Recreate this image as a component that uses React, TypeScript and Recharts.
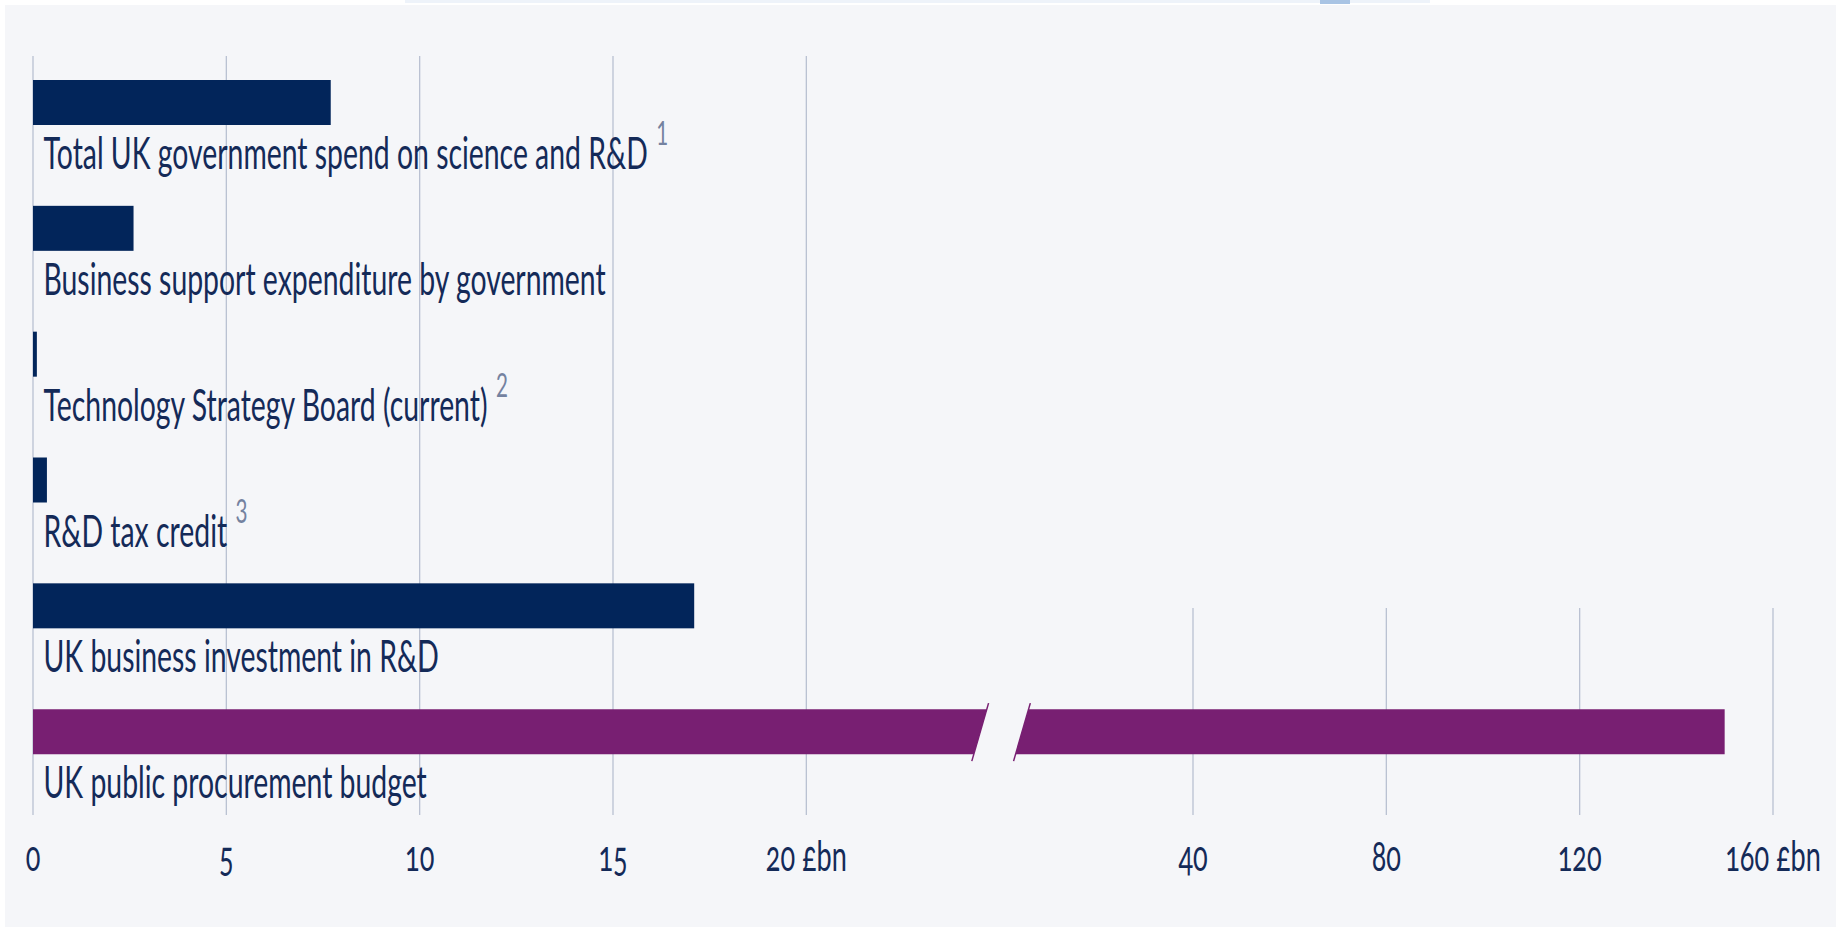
import React from "react";
import { BarChart, Bar, XAxis, YAxis, CartesianGrid } from "recharts";

const categories = [
  "Total UK government spend on science and R&D",
  "Business support expenditure by government",
  "Technology Strategy Board (current)",
  "R&D tax credit",
  "UK business investment in R&D",
  "UK public procurement budget",
];
const values = [7.7, 2.6, 0.1, 0.36, 17.1, 150];
const footnotes = ["1", "", "2", "3", "", ""];
const tickValues = [0, 5, 10, 15, 20, 40, 80, 120, 160];
const tickLabels = ["0", "5", "10", "15", "20 £bn", "40", "80", "120", "160 £bn"];
const highlighted = "UK public procurement budget";

// broken axis: 0-20 linear, then 40-160 squeezed to 1/8 of the scale
const LOW_MAX = 20;
const HIGH_MIN = 40;
const HIGH_START = 30;
const HIGH_RATIO = 8;
const toAxis = (v: number) =>
  v <= LOW_MAX ? v : HIGH_START + (v - HIGH_MIN) / HIGH_RATIO;

const axisTicks = tickValues.map(toAxis);
const lowTicks = tickValues.filter((v) => v <= LOW_MAX).map(toAxis);
const highTicks = tickValues.filter((v) => v > LOW_MAX).map(toAxis);

const data = categories.map((name, i) => ({
  name,
  note: footnotes[i],
  value: values[i],
  pos: toAxis(values[i]),
}));

const NAVY = "#02255a";
const PURPLE = "#781f72";
const TEXT = "#142a58";
const NOTE = "#7482a0";
const GRID = "#b9c1d2";
const FONT = "Lato, 'Open Sans', sans-serif";
const SX = 0.645; // the source art is squeezed horizontally
const BREAK = [24.5, 25.58];
const SLANT = 13;

function BarWithLabel(props: any) {
  const { x, y, width, height, payload } = props;
  const fill = payload.name === highlighted ? PURPLE : NAVY;
  let bar;
  if (payload.value > LOW_MAX) {
    const unit = width / payload.pos;
    const a = x + BREAK[0] * unit;
    const b = x + BREAK[1] * unit;
    const s = SLANT / 2;
    const k = SLANT / height;
    const y2 = y + height;
    bar = (
      <g>
        <polygon points={`${x},${y} ${a + s},${y} ${a - s},${y2} ${x},${y2}`} fill={fill} />
        <polygon points={`${b + s},${y} ${x + width},${y} ${x + width},${y2} ${b - s},${y2}`} fill={fill} />
        <line x1={a + s + 6 * k} y1={y - 6} x2={a - s - 7 * k} y2={y2 + 7} stroke={fill} strokeWidth={1.5} />
        <line x1={b + s + 6 * k} y1={y - 6} x2={b - s - 7 * k} y2={y2 + 7} stroke={fill} strokeWidth={1.5} />
      </g>
    );
  } else {
    bar = <rect x={x} y={y} width={width} height={height} fill={fill} />;
  }
  return (
    <g>
      {bar}
      <g transform={`translate(${x + 10.5},${y + height + 44}) scale(${SX},1)`}>
        <text fontFamily={FONT} fontSize={44} fill={TEXT}>
          {payload.name}
          {payload.note ? (
            <tspan dx={13} dy={-24} fontSize={32} fill={NOTE}>
              {payload.note}
            </tspan>
          ) : null}
        </text>
      </g>
    </g>
  );
}

function AxisTick(props: any) {
  const { x, y, payload } = props;
  const label = tickLabels[axisTicks.indexOf(payload.value)];
  return (
    <g transform={`translate(${x},${y + 68}) scale(${SX},1)`}>
      <text
        textAnchor="middle"
        fontFamily={FONT}
        fontSize={42}
        fill={TEXT}
        style={{ fontVariantNumeric: "oldstyle-nums" }}
      >
        {label}
      </text>
    </g>
  );
}

export default function App() {
  return (
    <div style={{ position: "absolute", left: 0, top: 0, width: 1841, height: 932, background: "#ffffff" }}>
      <div style={{ position: "absolute", left: 405, top: 0, width: 1025, height: 3, background: "#eef3fa" }} />
      <div style={{ position: "absolute", left: 1320, top: 0, width: 30, height: 4, background: "#a9c4e4" }} />
      <div style={{ position: "absolute", left: 5, top: 5, width: 1831, height: 922, background: "#f5f6f9" }} />
      <div style={{ position: "absolute", left: 0, top: 0 }}>
        <BarChart
          width={1841}
          height={932}
          data={data}
          layout="vertical"
          margin={{ top: 40, right: 68, bottom: 77, left: 33 }}
          barSize={45}
        >
          <CartesianGrid
            horizontal={false}
            verticalValues={lowTicks}
            y={56}
            height={759}
            stroke={GRID}
            strokeWidth={1.3}
          />
          <CartesianGrid
            horizontal={false}
            verticalValues={highTicks}
            y={608}
            height={207}
            stroke={GRID}
            strokeWidth={1.3}
          />
          <YAxis type="category" dataKey="name" hide />
          <XAxis
            type="number"
            domain={[0, 45]}
            ticks={axisTicks}
            interval={0}
            tick={<AxisTick />}
            axisLine={false}
            tickLine={false}
            height={60}
          />
          <Bar dataKey="pos" shape={<BarWithLabel />} isAnimationActive={false} />
        </BarChart>
      </div>
    </div>
  );
}
